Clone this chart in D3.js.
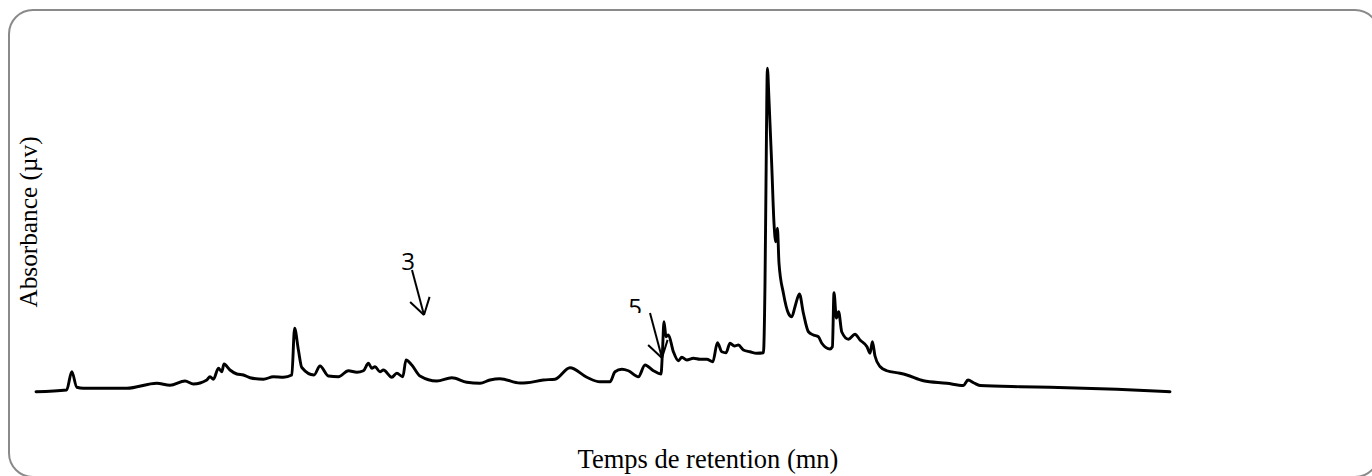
<!DOCTYPE html>
<html>
<head>
<meta charset="utf-8">
<script src="https://cdn.jsdelivr.net/npm/d3@7"></script>
<style>
  body { margin: 0; background: #fff; }
  svg { display: block; }
</style>
</head>
<body>
<svg id="chart"></svg>
<script>
const temps = [0, 1.53, 1.79, 2.04, 2.37, 4.54, 6.04, 6.7, 7.45, 7.87, 8.54, 8.7, 8.87, 9.12, 9.29, 9.4, 9.7,
  10.04, 10.37, 10.7, 11.37, 11.87, 12.37, 12.79, 12.93, 13.12, 13.29, 13.9, 14.2, 14.62, 15.12, 15.62,
  16.04, 16.37, 16.62, 16.79, 16.95, 17.2, 17.37, 17.79, 18.04, 18.34, 18.5, 18.79, 19.2, 20.04, 20.79,
  21.54, 22.2, 22.7, 23.2, 24.2, 24.54, 25.37, 25.95, 26.7, 27.54, 28.2, 28.7, 28.95, 29.29, 29.62, 30.12,
  30.45, 30.87, 31.25, 31.32, 31.4, 31.5, 31.62, 31.87, 32.12, 32.29, 32.54, 32.87, 33.2, 33.54, 33.84,
  34.07, 34.29, 34.5, 34.7, 34.92, 35.12, 35.37, 35.7, 36.04, 36.37, 36.45, 36.5, 36.57, 36.65, 36.79,
  36.9, 36.99, 37.07, 37.15, 37.37, 37.62, 37.79, 37.95, 38.17, 38.37, 38.62, 38.87, 39.12, 39.29, 39.7,
  39.82, 39.9, 40.02, 40.13, 40.29, 40.62, 40.95, 41.2, 41.55, 41.7, 41.82, 41.95, 42.2, 42.54, 43.2,
  43.54, 44.37, 45.54, 46.37, 46.6, 46.9, 47.2, 49.2, 50.7, 54.04, 56.7];
const absorbance = [0.1, 0.8, 8.1, 1.9, 1.5, 1.5, 3.5, 2.7, 4.4, 3.2, 4.8, 6.1, 5.1, 9.5, 8.1, 11.2, 8.8,
  7.2, 6.8, 5.7, 5.1, 6.1, 5.9, 6.8, 25.5, 16.8, 9.8, 6.8, 10.4, 6.4, 6.1, 8.5,
  7.9, 8.5, 11.5, 9.5, 10.1, 8.1, 8.8, 5.9, 7.5, 6.1, 12.8, 10.8, 6.4, 4.4, 5.7,
  3.9, 3.5, 4.8, 5.3, 3.6, 3.7, 4.8, 5.1, 9.7, 5.9, 4.1, 4.1, 8.1, 9.1, 8.5, 6.1,
  10.8, 8.5, 7.2, 15.5, 28.1, 22.1, 22.8, 16.1, 12.5, 13.9, 12.8, 13.5, 13.1, 13.1, 12.1,
  19.7, 16.1, 15.7, 19.5, 18.4, 18.8, 16.8, 16.1, 15.5, 15.7, 43.5, 83.5, 129.5, 116.8, 90.1,
  67.5, 60.1, 65.5, 51.5, 39.5, 31.5, 30.1, 34.1, 39.2, 31.5, 24.1, 22.8, 22.1, 19.5, 17.2,
  18.1, 39.7, 29.6, 32.1, 24, 21.1, 23.1, 20.8, 18.1, 15.5, 20.1, 14.4, 10.2, 8.5, 7.5,
  6.8, 4.5, 3.5, 2.6, 4.8, 3.6, 2.6, 2.1, 1.9, 1.1, 0.1];

// pics annotes : numero, debut et pointe de la fleche
const picLabels = ["3", "5"];
const flecheDebutT = [18.8, 30.7];
const flecheDebutA = [48.8, 31.6];
const flecheFinT = [19.4, 31.3];
const flecheFinA = [30.8, 13.6];

const xLabel = "Temps de retention (mn)";
const yLabel = "Absorbance (µv)";

const W = 1372, H = 476;
const svg = d3.select('#chart').attr('width', W).attr('height', H);

// cadre arrondi gris
svg.append('rect')
  .attr('x', 9).attr('y', 10)
  .attr('width', 1370).attr('height', 467)
  .attr('rx', 24).attr('ry', 24)
  .attr('fill', 'none')
  .attr('stroke', '#8a8a8a')
  .attr('stroke-width', 2);

const x = d3.scaleLinear().domain([0, 56.8]).range([36, 1172]);
const y = d3.scaleLinear().domain([0, 130]).range([392, 67]);

const points = temps.map((t, i) => [t, absorbance[i]]);

const line = d3.line()
  .x(d => x(d[0]))
  .y(d => y(d[1]))
  .curve(d3.curveMonotoneX);

svg.append('path')
  .datum(points)
  .attr('d', line)
  .attr('fill', 'none')
  .attr('stroke', '#000')
  .attr('stroke-width', 2.9)
  .attr('stroke-linejoin', 'round')
  .attr('stroke-linecap', 'round');

// fleches et numeros des pics
const defs = svg.append('defs');
defs.append('clipPath').attr('id', 'clip5')
  .append('rect').attr('x', 0).attr('y', 0).attr('width', W).attr('height', 313);

const headLen = 19, headAng = 32 * Math.PI / 180;
picLabels.forEach((lab, i) => {
  const x0 = x(flecheDebutT[i]), y0 = y(flecheDebutA[i]);
  const x1 = x(flecheFinT[i]), y1 = y(flecheFinA[i]);
  const ang = Math.atan2(y0 - y1, x0 - x1);
  const g = svg.append('g').attr('stroke', '#000').attr('stroke-width', 2).attr('fill', 'none');
  g.append('line').attr('x1', x0).attr('y1', y0).attr('x2', x1).attr('y2', y1);
  [-1, 1].forEach(s => {
    g.append('line')
      .attr('x1', x1).attr('y1', y1)
      .attr('x2', x1 + headLen * Math.cos(ang + s * headAng))
      .attr('y2', y1 + headLen * Math.sin(ang + s * headAng));
  });
  const t = svg.append('text')
    .attr('x', x0 - (i === 0 ? 4 : 15))
    .attr('y', y0 + (i === 0 ? 0 : 3))
    .attr('text-anchor', 'middle')
    .attr('font-family', '"Open Sans", "Noto Sans", sans-serif')
    .attr('font-size', 24)
    .text(lab);
  if (i === 1) t.attr('clip-path', 'url(#clip5)');
});

// titres des axes
svg.append('text')
  .attr('x', 708).attr('y', 468)
  .attr('text-anchor', 'middle')
  .attr('font-family', '"Liberation Serif", "Times New Roman", serif')
  .attr('font-size', 26.5)
  .text(xLabel);

svg.append('text')
  .attr('transform', 'translate(37,222) rotate(-90)')
  .attr('text-anchor', 'middle')
  .attr('font-family', '"Liberation Serif", "Times New Roman", serif')
  .attr('font-size', 25.3)
  .text(yLabel);
</script>
</body>
</html>
